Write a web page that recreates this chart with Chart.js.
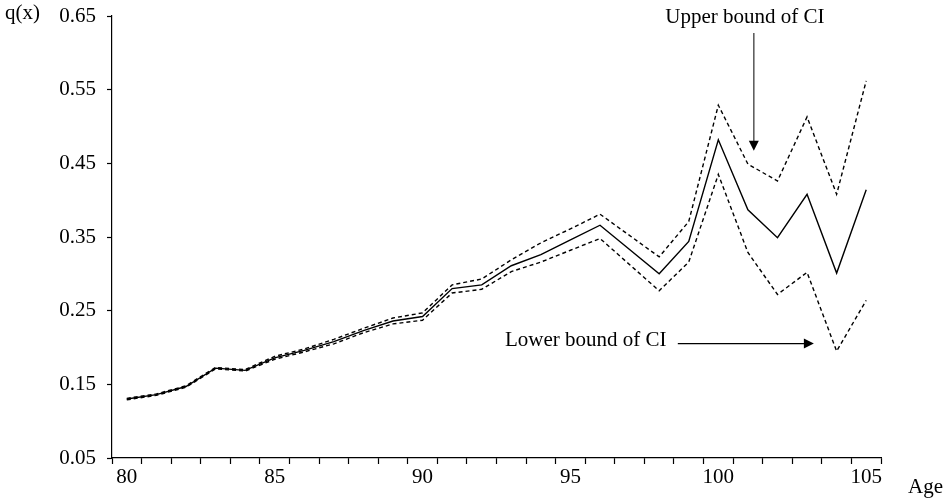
<!DOCTYPE html>
<html>
<head>
<meta charset="utf-8">
<script src="https://cdn.jsdelivr.net/npm/chart.js@4/dist/chart.umd.min.js"></script>
<style>
  html, body { margin: 0; padding: 0; background: #fff; }
  #wrap { width: 951px; height: 498px; position: relative; }
</style>
</head>
<body>
<div id="wrap"><canvas id="qx_chart"></canvas></div>
<script>
// ages 80..105, no estimate at 97
var ages = [80, 81, 82, 83, 84, 85, 86, 87, 88, 89, 90, 91, 92, 93, 94, 95, 96, 97, 98, 99, 100, 101, 102, 103, 104, 105];

var qx = [0.130, 0.136, 0.147, 0.172, 0.169, 0.186, 0.196, 0.208, 0.223, 0.236, 0.242, 0.280, 0.285,
          0.311, 0.326, 0.346, 0.366, null, 0.300, 0.344, 0.482, 0.387, 0.349, 0.408, 0.301, 0.414];

var upperCI = [0.131, 0.137, 0.148, 0.173, 0.170, 0.188, 0.198, 0.211, 0.226, 0.240, 0.247, 0.285, 0.293,
               0.319, 0.342, 0.361, 0.381, null, 0.323, 0.371, 0.529, 0.449, 0.426, 0.513, 0.408, 0.562];

var lowerCI = [0.129, 0.135, 0.146, 0.171, 0.168, 0.184, 0.194, 0.205, 0.220, 0.232, 0.237, 0.274, 0.279,
               0.303, 0.316, 0.332, 0.348, null, 0.277, 0.316, 0.435, 0.329, 0.272, 0.302, 0.195, 0.264];

var yTicks = [0.05, 0.15, 0.25, 0.35, 0.45, 0.55, 0.65];

var serif = "'Liberation Serif', 'DejaVu Serif', serif";

function arrowHead(ctx, x, y, dir) {
    ctx.beginPath();
    if (dir === 'down') {
        ctx.moveTo(x, y);
        ctx.lineTo(x - 5, y - 10);
        ctx.lineTo(x + 5, y - 10);
    } else {
        ctx.moveTo(x, y);
        ctx.lineTo(x - 10, y - 5);
        ctx.lineTo(x - 10, y + 5);
    }
    ctx.closePath();
    ctx.fill();
}

// axis names and the two CI notes
var notes = {
    id: 'notes',
    afterDraw: function(chart) {
        var ctx = chart.ctx;
        var xs = chart.scales.x, ys = chart.scales.y;
        var area = chart.chartArea;
        ctx.save();
        ctx.fillStyle = '#000';
        ctx.strokeStyle = '#000';
        ctx.font = '21px ' + serif;
        ctx.textBaseline = 'middle';

        ctx.textAlign = 'left';
        ctx.fillText('q(x)', 5, area.top - 3);
        ctx.fillText('Age', area.right + 27, area.bottom + 29);

        // upper bound
        ctx.textAlign = 'center';
        ctx.fillText('Upper bound of CI', xs.getPixelForValue(20.9), ys.getPixelForValue(0.648));
        var ax = xs.getPixelForValue(21.2);
        var y0 = ys.getPixelForValue(0.627), y1 = ys.getPixelForValue(0.467);
        ctx.strokeStyle = '#555';
        ctx.lineWidth = 1.5;
        ctx.beginPath();
        ctx.moveTo(ax, y0);
        ctx.lineTo(ax, y1 - 8);
        ctx.stroke();
        arrowHead(ctx, ax, y1, 'down');

        // lower bound
        ctx.fillText('Lower bound of CI', xs.getPixelForValue(15.52), ys.getPixelForValue(0.209));
        var ay = ys.getPixelForValue(0.2053);
        var x0 = xs.getPixelForValue(18.63), x1 = xs.getPixelForValue(23.23);
        ctx.strokeStyle = '#000';
        ctx.lineWidth = 1.2;
        ctx.beginPath();
        ctx.moveTo(x0, ay);
        ctx.lineTo(x1 - 8, ay);
        ctx.stroke();
        arrowHead(ctx, x1, ay, 'right');
        ctx.restore();
    }
};

var ctxQx = document.getElementById('qx_chart').getContext('2d');

var qx_chart = new Chart(ctxQx, {
    type: 'line',
    data: {
        labels: ages,
        datasets: [{
            label: 'q(x)',
            data: qx,
            borderColor: '#000',
            borderWidth: 1.4,
            pointRadius: 0,
            tension: 0,
            spanGaps: true
        }, {
            label: 'Upper bound of CI',
            data: upperCI,
            borderColor: '#000',
            borderWidth: 1.4,
            borderDash: [4, 3],
            pointRadius: 0,
            tension: 0,
            spanGaps: true
        }, {
            label: 'Lower bound of CI',
            data: lowerCI,
            borderColor: '#000',
            borderWidth: 1.4,
            borderDash: [4, 3],
            pointRadius: 0,
            tension: 0,
            spanGaps: true
        }]
    },
    options: {
        responsive: true,
        maintainAspectRatio: false,
        animation: false,
        layout: { padding: { top: 16, right: 70, left: 0, bottom: 0 } },
        plugins: {
            legend: { display: false },
            tooltip: { enabled: false }
        },
        scales: {
            x: {
                type: 'category',
                offset: true,
                border: { display: true, color: '#000', width: 1.2 },
                grid: { display: true, offset: true, drawOnChartArea: false, color: '#000', tickLength: 6, tickWidth: 1.2 },
                ticks: {
                    autoSkip: false,
                    maxRotation: 0,
                    padding: 1,
                    color: '#000',
                    font: { family: serif, size: 21 },
                    callback: function(value) {
                        var a = ages[value];
                        return a % 5 === 0 ? String(a) : '';
                    }
                },
                afterFit: function(scale) {
                    scale.height = 40;
                    scale.paddingLeft = 0;
                    scale.paddingRight = 0;
                }
            },
            y: {
                min: 0.05,
                max: 0.65,
                border: { display: true, color: '#000', width: 1.2 },
                grid: { display: true, drawOnChartArea: false, color: '#000', tickLength: 5, tickWidth: 1.2 },
                afterBuildTicks: function(scale) {
                    scale.ticks = yTicks.map(function(v) { return { value: v }; });
                },
                ticks: {
                    padding: 11,
                    color: '#000',
                    font: { family: serif, size: 21 },
                    callback: function(value) { return Number(value).toFixed(2); }
                },
                afterFit: function(scale) {
                    scale.width = 112;
                    scale.paddingTop = 0;
                    scale.paddingBottom = 0;
                }
            }
        }
    },
    plugins: [notes]
});
</script>
</body>
</html>
